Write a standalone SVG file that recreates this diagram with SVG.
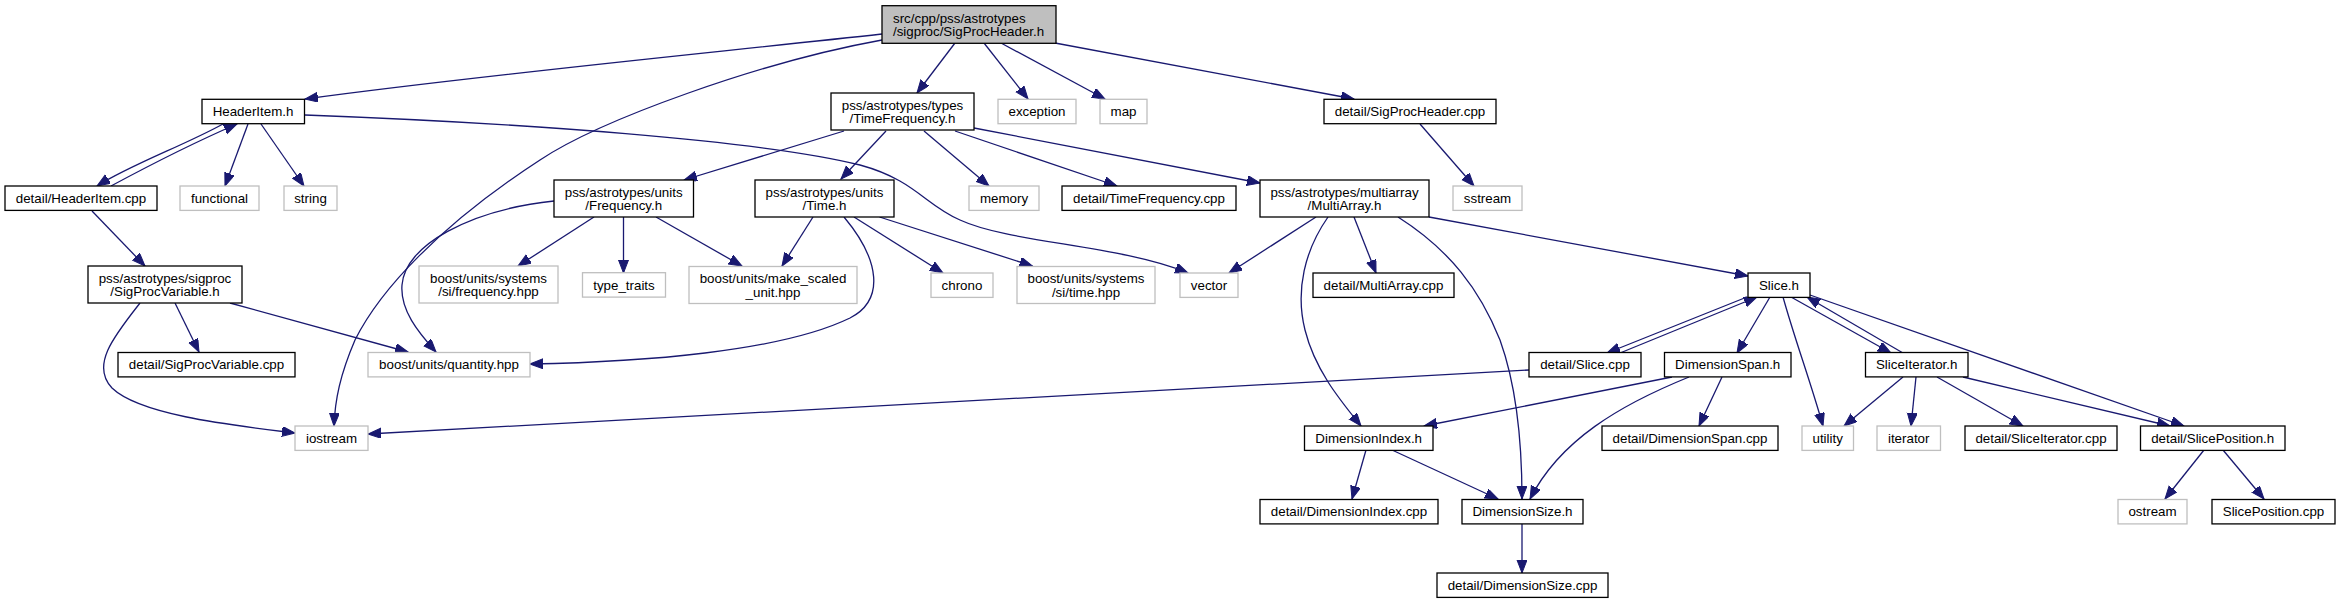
<svg xmlns="http://www.w3.org/2000/svg" width="2340" height="603" viewBox="0 0 2340 603">
<defs>
<marker id="ah" markerUnits="userSpaceOnUse" markerWidth="14" markerHeight="11" refX="13" refY="5" orient="auto">
<path d="M0,0 L13,5 L0,10 Z" fill="#191970" stroke="#191970" stroke-width="1"/>
</marker>
</defs>
<style>
.n rect{fill:#ffffff;stroke:#000000;stroke-width:1.3}
.g rect{fill:#ffffff;stroke:#bfbfbf;stroke-width:1.3}
.r rect{fill:#bfbfbf;stroke:#000000;stroke-width:1.3}
text{font-family:"Liberation Sans",Arial,Helvetica,sans-serif;font-size:13.33px;fill:#000000;text-anchor:middle}
.r text{text-anchor:start}
#edges path{fill:none;stroke:#191970;stroke-width:1.3;marker-end:url(#ah)}
</style>
<rect x="0" y="0" width="2340" height="603" fill="#ffffff"/>
<g id="edges">
<path d="M882,34 C720,52 480,75 305,99"/>
<path d="M882,40 C760,62 600,120 540,160 C440,225 380,290 355,340 C340,375 335,400 334,426"/>
<path d="M955,43 L917,93"/>
<path d="M984,43 L1028,99"/>
<path d="M1001,43 L1105,99"/>
<path d="M1055,43 L1354,99"/>
<path d="M1420,124 L1474,186"/>
<path d="M223,124 C185,145 130,165 97,186"/>
<path d="M111,186 C150,165 200,140 237,124"/>
<path d="M248,124 L225,186"/>
<path d="M261,124 L304,186"/>
<path d="M305,115 C520,123 760,140 860,165 C915,180 925,205 960,220 C1010,243 1120,245 1188,273"/>
<path d="M92,211 L145,266"/>
<path d="M175,303 L199,352"/>
<path d="M230,303 L408,352"/>
<path d="M140,303 C115,335 90,365 112,388 C140,415 230,425 295,433"/>
<path d="M844,131 L684,180"/>
<path d="M886,131 L841,179"/>
<path d="M924,131 L989,186"/>
<path d="M955,131 L1117,186"/>
<path d="M974,128 L1260,183"/>
<path d="M594,217 L518,266"/>
<path d="M623.5,217 L623.5,273"/>
<path d="M656,217 L742,266"/>
<path d="M554,201 C470,210 405,245 402,285 C400,310 418,332 436,352"/>
<path d="M813,217 L782,266"/>
<path d="M844,217 C880,260 885,300 850,318 C780,352 640,362 530,364"/>
<path d="M854,217 L943,273"/>
<path d="M879.5,217 L1032.5,266"/>
<path d="M1316,217 L1229,273"/>
<path d="M1354,217 L1376,273"/>
<path d="M1328,217 C1305,250 1295,290 1305,330 C1315,370 1340,400 1361,426"/>
<path d="M1398,217 C1450,250 1480,290 1500,340 C1518,390 1522,450 1522,499"/>
<path d="M1429,217 L1748,276"/>
<path d="M1747,297 L1607,353"/>
<path d="M1620,353 L1757,297"/>
<path d="M1770,297 L1737,353"/>
<path d="M1783,297 C1795,340 1810,380 1823,426"/>
<path d="M1791,297 L1891,353"/>
<path d="M1903,353 L1807,297"/>
<path d="M1810,295 L2184,426"/>
<path d="M1672,377 L1424,426"/>
<path d="M1689,377 C1620,405 1560,440 1530,499"/>
<path d="M1722,377 L1699,426"/>
<path d="M1529,370 L368,434"/>
<path d="M1366,450 L1352,499"/>
<path d="M1392,450 L1498,499"/>
<path d="M1522,524 L1522,573"/>
<path d="M1903,377 L1844,426"/>
<path d="M1916,377 L1911,426"/>
<path d="M1937,377 L2023,426"/>
<path d="M1963,377 L2170,426"/>
<path d="M2204,450 L2165,499"/>
<path d="M2223,450 L2264,499"/>
</g>
<g id="root" class="r"><rect x="882" y="5.7" width="174" height="37.6"/><text x="893" y="22.5">src/cpp/pss/astrotypes</text><text x="893" y="35.7">/sigproc/SigProcHeader.h</text></g>
<g id="headeritem_h" class="n"><rect x="202" y="99.3" width="102.5" height="24.4"/><text x="253" y="116.1">HeaderItem.h</text></g>
<g id="timefrequency_h" class="n"><rect x="831" y="93" width="143" height="37"/><text x="902.5" y="109.8">pss/astrotypes/types</text><text x="902.5" y="123">/TimeFrequency.h</text></g>
<g id="exception" class="g"><rect x="998" y="99.3" width="78" height="24.4"/><text x="1037" y="116.1">exception</text></g>
<g id="map" class="g"><rect x="1100" y="99.3" width="47" height="24.4"/><text x="1123.5" y="116.1">map</text></g>
<g id="sigprocheader_cpp" class="n"><rect x="1324" y="99.3" width="172" height="24.4"/><text x="1410" y="116.1">detail/SigProcHeader.cpp</text></g>
<g id="headeritem_cpp" class="n"><rect x="5" y="186" width="152" height="24.4"/><text x="81" y="202.8">detail/HeaderItem.cpp</text></g>
<g id="functional" class="g"><rect x="180" y="186" width="79" height="24.4"/><text x="219.5" y="202.8">functional</text></g>
<g id="string" class="g"><rect x="284" y="186" width="53" height="24.4"/><text x="310.5" y="202.8">string</text></g>
<g id="frequency_h" class="n"><rect x="554" y="180" width="139.5" height="37"/><text x="623.7" y="196.8">pss/astrotypes/units</text><text x="623.7" y="210">/Frequency.h</text></g>
<g id="time_h" class="n"><rect x="755" y="180" width="139" height="37"/><text x="824.5" y="196.8">pss/astrotypes/units</text><text x="824.5" y="210">/Time.h</text></g>
<g id="memory" class="g"><rect x="969" y="186" width="70" height="24.4"/><text x="1004" y="202.8">memory</text></g>
<g id="timefrequency_cpp" class="n"><rect x="1062" y="186" width="174" height="24.4"/><text x="1149" y="202.8">detail/TimeFrequency.cpp</text></g>
<g id="multiarray_h" class="n"><rect x="1260" y="180" width="169" height="37"/><text x="1344.5" y="196.8">pss/astrotypes/multiarray</text><text x="1344.5" y="210">/MultiArray.h</text></g>
<g id="sstream" class="g"><rect x="1453" y="186" width="69" height="24.4"/><text x="1487.5" y="202.8">sstream</text></g>
<g id="sigprocvariable_h" class="n"><rect x="88" y="266" width="154" height="37"/><text x="165" y="282.8">pss/astrotypes/sigproc</text><text x="165" y="296">/SigProcVariable.h</text></g>
<g id="si_frequency" class="g"><rect x="419" y="266" width="139" height="37"/><text x="488.5" y="282.8">boost/units/systems</text><text x="488.5" y="296">/si/frequency.hpp</text></g>
<g id="type_traits" class="g"><rect x="582.5" y="272.7" width="83" height="24.4"/><text x="624" y="289.5">type_traits</text></g>
<g id="make_scaled_unit" class="g"><rect x="689" y="266.5" width="168" height="37"/><text x="773" y="283.3">boost/units/make_scaled</text><text x="773" y="296.5">_unit.hpp</text></g>
<g id="chrono" class="g"><rect x="931" y="273" width="62" height="24.4"/><text x="962" y="289.8">chrono</text></g>
<g id="si_time" class="g"><rect x="1017" y="266.5" width="138" height="37"/><text x="1086" y="283.3">boost/units/systems</text><text x="1086" y="296.5">/si/time.hpp</text></g>
<g id="vector" class="g"><rect x="1180" y="273" width="58" height="24.4"/><text x="1209" y="289.8">vector</text></g>
<g id="multiarray_cpp" class="n"><rect x="1313" y="273" width="141" height="24.4"/><text x="1383.5" y="289.8">detail/MultiArray.cpp</text></g>
<g id="slice_h" class="n"><rect x="1748" y="273" width="62" height="24.4"/><text x="1779" y="289.8">Slice.h</text></g>
<g id="sigprocvariable_cpp" class="n"><rect x="118" y="352.5" width="177" height="24.4"/><text x="206.5" y="369.3">detail/SigProcVariable.cpp</text></g>
<g id="quantity" class="g"><rect x="368" y="352.5" width="162" height="24.4"/><text x="449" y="369.3">boost/units/quantity.hpp</text></g>
<g id="slice_cpp" class="n"><rect x="1529" y="352.5" width="112" height="24.4"/><text x="1585" y="369.3">detail/Slice.cpp</text></g>
<g id="dimensionspan_h" class="n"><rect x="1664.5" y="352.5" width="126.5" height="24.4"/><text x="1727.7" y="369.3">DimensionSpan.h</text></g>
<g id="sliceiterator_h" class="n"><rect x="1865.5" y="352.5" width="102.5" height="24.4"/><text x="1916.7" y="369.3">SliceIterator.h</text></g>
<g id="iostream" class="g"><rect x="295" y="426" width="73" height="24.4"/><text x="331.5" y="442.8">iostream</text></g>
<g id="dimensionindex_h" class="n"><rect x="1304.5" y="426" width="128.5" height="24.4"/><text x="1368.7" y="442.8">DimensionIndex.h</text></g>
<g id="dimensionspan_cpp" class="n"><rect x="1602" y="426" width="176" height="24.4"/><text x="1690" y="442.8">detail/DimensionSpan.cpp</text></g>
<g id="utility" class="g"><rect x="1802" y="426" width="51.5" height="24.4"/><text x="1827.7" y="442.8">utility</text></g>
<g id="iterator" class="g"><rect x="1877" y="426" width="63.5" height="24.4"/><text x="1908.7" y="442.8">iterator</text></g>
<g id="sliceiterator_cpp" class="n"><rect x="1965" y="426" width="152" height="24.4"/><text x="2041" y="442.8">detail/SliceIterator.cpp</text></g>
<g id="sliceposition_h" class="n"><rect x="2140.5" y="426" width="144.5" height="24.4"/><text x="2212.7" y="442.8">detail/SlicePosition.h</text></g>
<g id="dimensionindex_cpp" class="n"><rect x="1260" y="499.5" width="178" height="24.4"/><text x="1349" y="516.3">detail/DimensionIndex.cpp</text></g>
<g id="dimensionsize_h" class="n"><rect x="1462" y="499.5" width="121" height="24.4"/><text x="1522.5" y="516.3">DimensionSize.h</text></g>
<g id="ostream" class="g"><rect x="2118" y="499.5" width="69" height="24.4"/><text x="2152.5" y="516.3">ostream</text></g>
<g id="sliceposition_cpp" class="n"><rect x="2212" y="499.5" width="123" height="24.4"/><text x="2273.5" y="516.3">SlicePosition.cpp</text></g>
<g id="dimensionsize_cpp" class="n"><rect x="1437" y="573" width="171" height="24.4"/><text x="1522.5" y="589.8">detail/DimensionSize.cpp</text></g>
</svg>
